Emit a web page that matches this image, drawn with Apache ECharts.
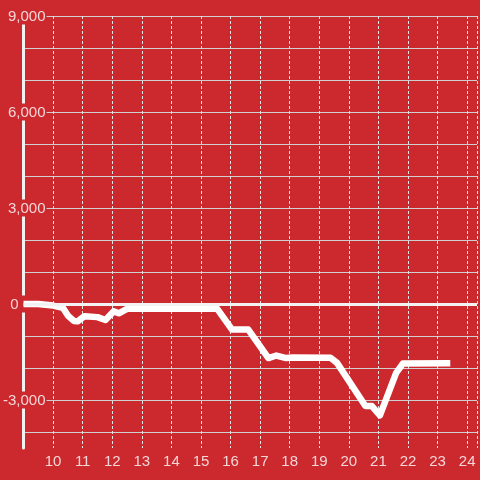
<!DOCTYPE html>
<html>
<head>
<meta charset="utf-8">
<script src="https://cdn.jsdelivr.net/npm/echarts@6/dist/echarts.min.js"></script>
<style>
  html, body { margin: 0; padding: 0; background: #cc292e; }
  #main { width: 480px; height: 480px; }
</style>
</head>
<body>
<div id="main"></div>
<script>
// hour of day (x) and value (y)
var hours = [9, 9.5, 10, 10.33, 10.5, 10.7, 10.83, 11.06, 11.5, 11.77, 12.05, 12.22, 12.5,
  15.55, 16.05, 16.6, 17.28, 17.55, 17.88, 18.1, 19.38, 19.6, 20.56, 20.78, 21.05, 21.6, 21.83, 23.43];
var values = [0, 0, -50, -120, -360, -530, -540, -380, -410, -500, -230, -290, -150,
  -150, -800, -800, -1690, -1610, -1690, -1670, -1680, -1840, -3190, -3190, -3480, -2150, -1860, -1850];
var yLabelValues = [9000, 6000, 3000, 0, -3000];

var chartDom = document.getElementById('main');
var chart = echarts.init(chartDom);
var labelColor = '#f3d6d7';
var option;

option = {
  backgroundColor: '#cc292e',
  animation: false,
  grid: {
    left: 20,
    right: 0,
    top: 16,
    bottom: 32
  },
  xAxis: {
    type: 'value',
    min: 9,
    max: 24.333,
    interval: 1,
    axisLine: { show: false },
    axisTick: { show: false },
    axisLabel: {
      color: labelColor,
      fontFamily: 'Liberation Sans',
      fontSize: 15,
      margin: 6,
      formatter: function (v) {
        return (Math.abs(v - Math.round(v)) < 1e-6 && v > 9) ? String(Math.round(v)) : '';
      }
    },
    splitLine: {
      show: true,
      lineStyle: { color: '#e4e4e4', width: 1, type: [3, 2] }
    }
  },
  yAxis: {
    type: 'value',
    min: -4500,
    max: 9000,
    interval: 500,
    axisLine: { show: true, lineStyle: { color: '#f2f2f2', width: 3 } },
    axisTick: { show: false },
    axisLabel: {
      color: labelColor,
      fontFamily: 'Liberation Sans',
      fontSize: 15,
      align: 'right',
      margin: -23,
      backgroundColor: '#cc292e',
      padding: [2, 1, 0, 0],
      formatter: function (v) {
        if (v === 0) return '{z|0}';
        return yLabelValues.indexOf(v) >= 0 ? v.toLocaleString('en-US') : '';
      },
      rich: {
        z: { color: labelColor, fontFamily: 'Liberation Sans', fontSize: 15, padding: [0, 27, 0, 0] }
      }
    },
    splitLine: {
      show: true,
      lineStyle: { color: ['rgba(0,0,0,0)', '#cfcfcf'], width: 1 }
    }
  },
  series: [
    {
      type: 'line',
      data: hours.map(function (h, i) { return [h, values[i]]; }),
      symbol: 'none',
      lineStyle: { color: '#ffffff', width: 6.5, join: 'round' },
      markLine: {
        silent: true,
        symbol: 'none',
        label: { show: false },
        lineStyle: { color: '#f2f2f2', width: 3, type: 'solid' },
        data: [{ yAxis: 0 }]
      }
    }
  ]
};

option && chart.setOption(option);
</script>
</body>
</html>
